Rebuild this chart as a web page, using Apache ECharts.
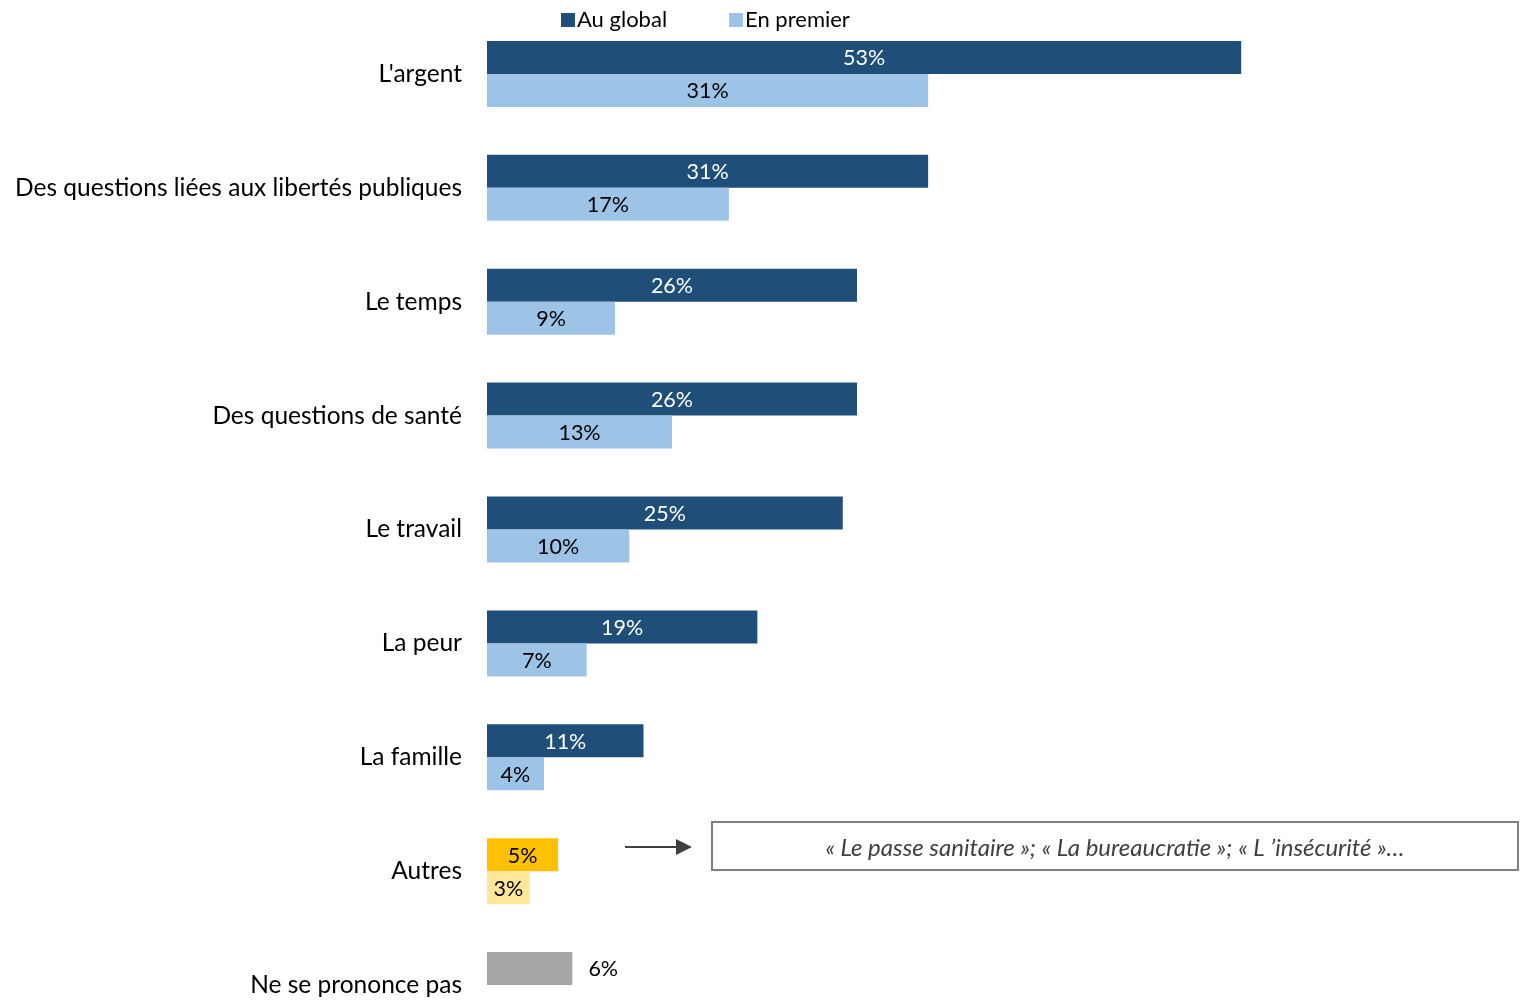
<!DOCTYPE html>
<html><head><meta charset="utf-8">
<script src="https://cdn.jsdelivr.net/npm/echarts@6/dist/echarts.min.js"></script>
<style>html,body{margin:0;padding:0;background:#fff}#c{width:1521px;height:1000px}</style>
</head><body><div id="c"></div>
<script>
const categories = ["L'argent","Des questions liées aux libertés publiques","Le temps","Des questions de santé","Le travail","La peur","La famille","Autres","Ne se prononce pas"];
const auGlobal = [53,31,26,26,25,19,11,5,6];
const enPremier = [31,17,9,13,10,7,4,3,null];
const annotation = "« Le passe sanitaire »; « La bureaucratie »; « L ’insécurité »…";

const FONT = 'Lato';
const chart = echarts.init(document.getElementById('c'));
const darkData = auGlobal.map((v,i)=>{
  if (i===7) return {value:v,itemStyle:{color:'#FFC000'},label:{color:'#000'}};
  if (i===8) return {value:v,itemStyle:{color:'#A6A6A6'},label:{color:'#000',position:'right',distance:16}};
  return v;
});
const lightData = enPremier.map((v,i)=>{
  if (v===null) return '-';
  if (i===7) return {value:v,itemStyle:{color:'#FFE699'}};
  return v;
});
chart.setOption({
  animation:false,
  textStyle:{fontFamily:FONT},
  legend:{top:4,left:556,itemWidth:14,itemHeight:14,itemGap:62,icon:'rect',
    textStyle:{fontSize:22,color:'#000',fontFamily:FONT,padding:[0,0,0,-3]},
    data:['Au global','En premier']},
  grid:{left:487,top:17,width:1423,height:1025,containLabel:false,outerBoundsMode:'none'},
  xAxis:{type:'value',min:0,max:100,show:false},
  yAxis:{type:'category',data:categories,inverse:true,
    axisLine:{show:false},axisTick:{show:false},
    axisLabel:{fontSize:24.5,color:'#000',margin:25,fontFamily:FONT}},
  series:[
    {name:'Au global',type:'bar',data:darkData,barWidth:33,barGap:'0%',
      itemStyle:{color:'#1F4E79'},
      label:{show:true,position:'inside',offset:[0,1],color:'#fff',fontSize:21.5,fontFamily:FONT,formatter:'{c}%'}},
    {name:'En premier',type:'bar',data:lightData,barWidth:33,barGap:'0%',
      itemStyle:{color:'#9DC3E6'},
      label:{show:true,position:'inside',offset:[0,1],color:'#000',fontSize:21.5,fontFamily:FONT,formatter:'{c}%'}}
  ],
  graphic:[
    {type:'line',shape:{x1:625,y1:847,x2:678,y2:847},style:{stroke:'#404040',lineWidth:2}},
    {type:'polygon',shape:{points:[[676,839],[692,847],[676,855]]},style:{fill:'#404040'}},
    {type:'rect',shape:{x:712,y:822,width:806,height:48},style:{fill:'#fff',stroke:'#7F7F7F',lineWidth:2}},
    {type:'text',x:1115,y:848,style:{text:annotation,fontSize:24,fontStyle:'italic',fontFamily:FONT,fill:'#404040',align:'center',verticalAlign:'middle'}}
  ]
});
</script></body></html>
